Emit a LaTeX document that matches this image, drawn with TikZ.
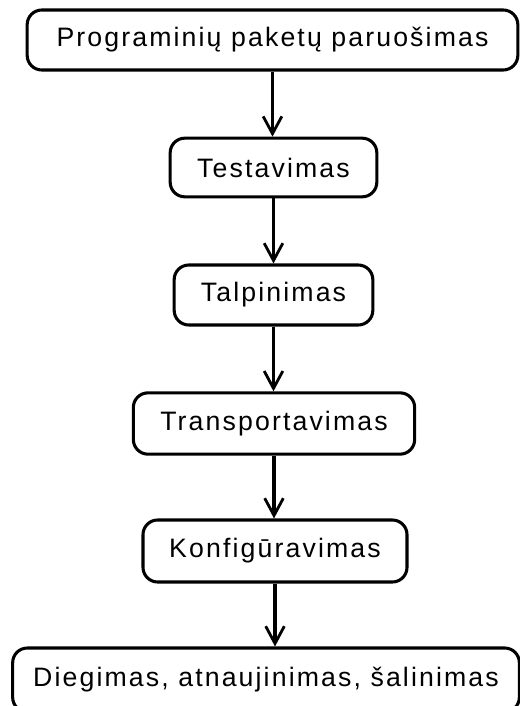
\documentclass[tikz,border=0pt]{standalone}
\usepackage{fontspec}
\setmainfont{Liberation Sans}[LetterSpace=8]
\usetikzlibrary{arrows.meta}
\begin{document}
\begin{tikzpicture}[x=0.75pt,y=-0.75pt,
  stepbox/.style={draw=black, line width=2.3pt, rounded corners=11pt,
    inner sep=0pt, font=\fontsize{20pt}{24pt}\selectfont, text=black},
  arr/.style={draw=black, line width=2.3pt, -{Straight Barb[length=13pt,width=14pt,line width=2.1pt]}}]
\useasboundingbox (0,0) rectangle (520,706);
\clip (0,0) rectangle (520,706);
\fill[white] (0,0) rectangle (520,706);
\node[stepbox, minimum width=368pt, minimum height=45pt] (top) at (272.5,40) {Programinių paketų paruošimas};
\node[stepbox, minimum width=155pt, minimum height=44pt] (test) at (273.5,167.5) {Testavimas};
\node[stepbox, minimum width=149pt, minimum height=45pt] (talp) at (273.5,295) {Talpinimas};
\node[stepbox, minimum width=211pt, minimum height=46pt] (trans) at (274,423.5) {Transportavimas};
\node[stepbox, minimum width=198pt, minimum height=46.5pt] (konf) at (275,551) {Konfigūravimas};
\node[stepbox, minimum width=380pt, minimum height=48pt] (dieg) at (266,680) {Diegimas, atnaujinimas, šalinimas};
\draw[arr] (top.south) -- (top.south |- test.north);
\draw[arr] (test.south) -- (test.south |- talp.north);
\draw[arr] (talp.south) -- (talp.south |- trans.north);
\draw[arr] (trans.south) -- (trans.south |- konf.north);
\draw[arr] (konf.south) -- (konf.south |- dieg.north);
\end{tikzpicture}
\end{document}
